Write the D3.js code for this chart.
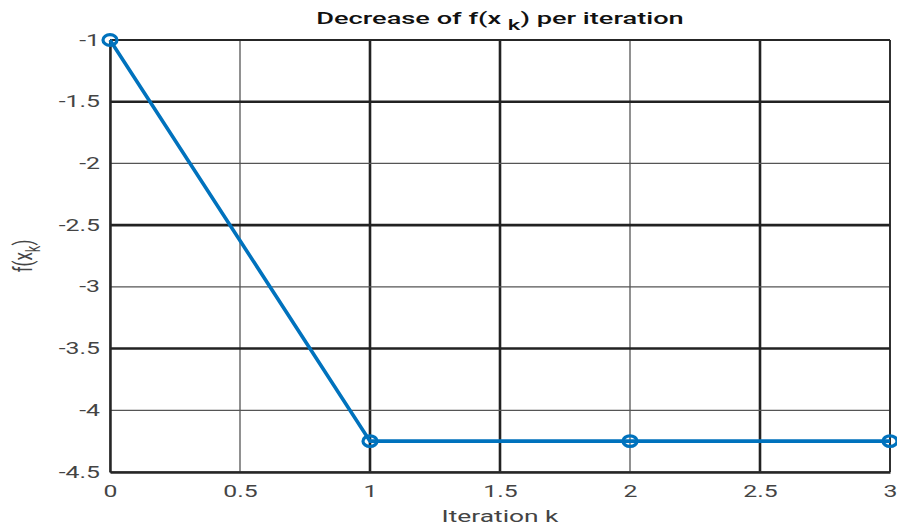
<!DOCTYPE html>
<html lang="en">
<head>
<meta charset="UTF-8" />
<script src="https://d3js.org/d3.v7.min.js"></script>
<style>
  body { margin: 0; background: #fff; }
  text { font-family: Roboto, "Open Sans", sans-serif; }
</style>
</head>
<body>
<div id="my_chart"></div>
<script>
// data
var iterations = [0, 1, 2, 3];
var fValues = [-1, -4.25, -4.25, -4.25];
var xTicks = [0, 0.5, 1, 1.5, 2, 2.5, 3];
var yTicks = [-1, -1.5, -2, -2.5, -3, -3.5, -4, -4.5];

var W = 897, H = 526;
var SX = 1.55; // the source picture is stretched sideways
var margin = { top: 40, right: 7, bottom: 54, left: 110 },
    width = W - margin.left - margin.right,
    height = H - margin.top - margin.bottom;

const svg = d3.select("#my_chart")
  .append("svg")
  .attr("width", W)
  .attr("height", H);

const g = svg.append("g")
  .attr("transform", "translate(" + margin.left + "," + margin.top + ")");

const x = d3.scaleLinear().domain([0, 3]).range([0, width]);
const y = d3.scaleLinear().domain([-4.5, -1]).range([height, 0]);

// grid (resampling in the source makes some lines look heavier)
const thickX = [1, 1.5, 2.5];
const thickY = [-1.5, -2.5, -3.5];
g.append("g").selectAll("line").data(xTicks).enter().append("line")
  .attr("x1", d => x(d)).attr("x2", d => x(d))
  .attr("y1", 0).attr("y2", height)
  .attr("stroke", d => thickX.includes(d) ? "#222" : "#555")
  .attr("stroke-width", d => thickX.includes(d) ? 2.6 : 1.3);
g.append("g").selectAll("line").data(yTicks).enter().append("line")
  .attr("y1", d => y(d)).attr("y2", d => y(d))
  .attr("x1", 0).attr("x2", width)
  .attr("stroke", d => thickY.includes(d) ? "#222" : "#555")
  .attr("stroke-width", d => thickY.includes(d) ? 2.6 : 1.3);

// axes
const xAxis = g.append("g")
  .attr("transform", `translate(0, ${height})`)
  .call(d3.axisBottom(x).tickValues(xTicks).tickSize(0).tickPadding(14).tickFormat(d => String(d)));
const yAxis = g.append("g")
  .call(d3.axisLeft(y).tickValues(yTicks).tickSize(0).tickPadding(6.5).tickFormat(d => String(d)));
[xAxis, yAxis].forEach(a => {
  a.select(".domain").attr("stroke", "#262626").attr("stroke-width", 2.5);
  a.selectAll("text").attr("fill", "#444").style("font-size", "16px")
    .style("font-family", "Roboto, sans-serif")
    .attr("transform", `scale(${SX},1)`);
});

// box top/right
g.append("line").attr("x1", 0).attr("x2", width).attr("y1", 0).attr("y2", 0)
  .attr("stroke", "#262626").attr("stroke-width", 1.8);
g.append("line").attr("x1", width).attr("x2", width).attr("y1", 0).attr("y2", height)
  .attr("stroke", "#262626").attr("stroke-width", 1.8);

// line + markers
const pts = iterations.map((k, i) => [k, fValues[i]]);
g.append("path")
  .datum(pts)
  .attr("fill", "none")
  .attr("stroke", "#0072BD")
  .attr("stroke-width", 3.6)
  .attr("d", d3.line().x(d => x(d[0])).y(d => y(d[1])));
g.selectAll("ellipse.mk").data(pts).enter().append("ellipse")
  .attr("class", "mk")
  .attr("cx", d => x(d[0])).attr("cy", d => y(d[1]))
  .attr("rx", 7).attr("ry", 5.3)
  .attr("fill", "none")
  .attr("stroke", "#0072BD")
  .attr("stroke-width", 3.2);

// title
const title = svg.append("text")
  .attr("transform", `translate(${margin.left + width / 2},24) scale(1.6,1)`)
  .attr("text-anchor", "middle")
  .attr("fill", "#111")
  .style("font-size", "17px")
  .style("font-weight", "500");
title.append("tspan").text("Decrease of f(x ");
title.append("tspan").attr("dy", 6).style("font-size", "15px").text("k");
title.append("tspan").attr("dy", -6).text(") per iteration");

// x label
svg.append("text")
  .attr("transform", `translate(${margin.left + width / 2},522) scale(${SX},1)`)
  .attr("text-anchor", "middle")
  .attr("fill", "#444")
  .style("font-size", "17px")
  .text("Iteration k");

// y label
const yl = svg.append("text")
  .attr("transform", `translate(32, 256) scale(${SX},1) rotate(-90)`)
  .attr("text-anchor", "middle")
  .attr("fill", "#444")
  .style("font-size", "17px");
yl.append("tspan").text("f(x");
yl.append("tspan").attr("dy", 5).style("font-size", "13px").text("k");
yl.append("tspan").attr("dy", -5).text(")");
</script>
</body>
</html>
